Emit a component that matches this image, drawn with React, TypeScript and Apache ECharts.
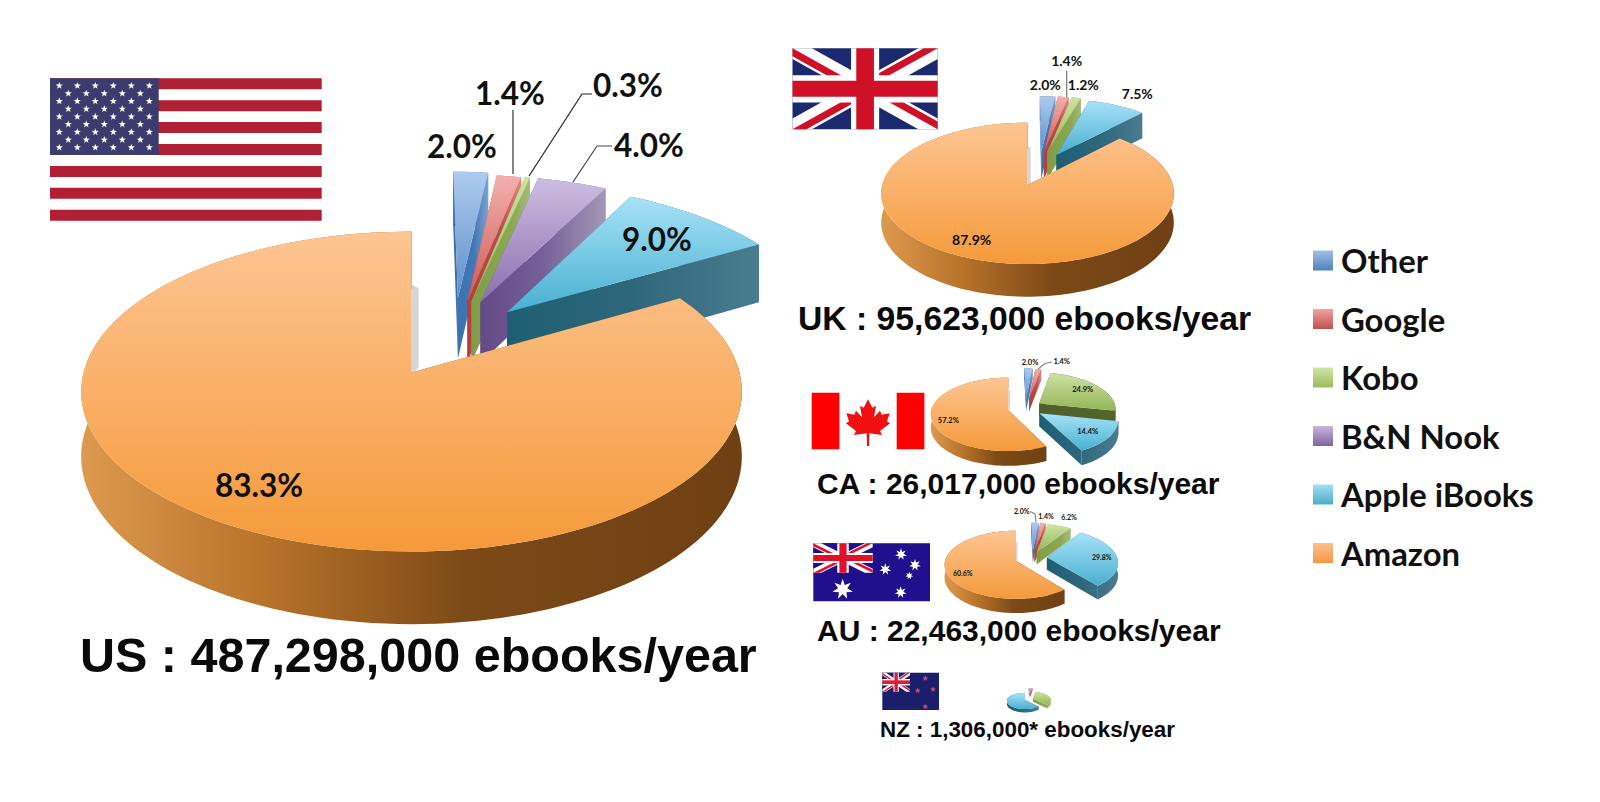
import React, { useEffect, useRef } from "react";
import * as echarts from "echarts";

const providers = ["Other", "Google", "Kobo", "B&N Nook", "Apple iBooks", "Amazon"];
const countries = ["US", "UK", "CA", "AU", "NZ"];
const usShares = [2.0, 1.4, 0.3, 4.0, 9.0, 83.3];
const ukShares = [2.0, 1.4, 1.2, 0, 7.5, 87.9];
const caShares = [2.0, 1.4, 24.9, 0, 14.4, 57.2];
const auShares = [2.0, 1.4, 6.2, 0, 29.8, 60.6];
const nzShares = [2.0, 1.4, 34.6, 0, 62.0, 0];
const allShares = [usShares, ukShares, caShares, auShares, nzShares];
const volumeTitles = [
  "US : 487,298,000 ebooks/year",
  "UK : 95,623,000 ebooks/year",
  "CA : 26,017,000 ebooks/year",
  "AU : 22,463,000 ebooks/year",
  "NZ : 1,306,000* ebooks/year",
];

// layout only -----------------------------------------------------------
const pieGeom = [
  { ax: 411.5, ay: 372.5, rx: 328, r: 157.7, d: 64, k: 0.119, font: 31.5 },
  { ax: 1027.5, ay: 185, rx: 145.3, r: 69.7, d: 28.8, k: 0.118, font: 14 },
  { ax: 1008.3, ay: 410, rx: 77, r: 36.2, d: 13, k: 0.119, font: 7.5 },
  { ax: 1016, ay: 560.7, rx: 71, r: 33.6, d: 12.5, k: 0.119, font: 7 },
  { ax: 1025, ay: 700, rx: 18, r: 8, d: 3, k: 0.119, font: 0 },
];
const explode = [
  [[0.15, 0.5], [0.18, 0.475], [0.193, 0.475], [0.222, 0.47], [0.305, 0.4], [0, 0]],
  [[0.1, 0.5], [0.12, 0.5], [0.145, 0.5], [0, 0], [0.21, 0.453], [0, 0]],
  [[0.24, 0.335], [0.28, 0.32], [0.41, 0.185], [0, 0], [0.4, -0.09], [0, 0]],
  [[0.245, 0.305], [0.27, 0.31], [0.3, 0.26], [0, 0], [0.44, 0.1], [0, 0]],
  [[0.25, 0.8], [0.3, 0.8], [0.45, 0.15], [0, 0], [0, 0], [0, 0]],
];
const labelPos: any[][] = [
  [[462, 146], [510, 93], [628, 85], [649, 145], [657, 239], [259, 485]],
  [[1045.3, 84.3], [1066.7, 60.7], [1083.3, 84], null, [1137.3, 93.3], [971.7, 239]],
  [[1030, 362], [1061.7, 361], [1082.7, 389.3], null, [1087.7, 431.7], [948.3, 420]],
  [[1021.7, 511.3], [1046, 515.7], [1069, 516.7], null, [1101.7, 556.7], [962.7, 572.7]],
  [null, null, null, null, null, null],
];
const leaders = [
  { pts: [[513, 110], [513, 174]], c: "#333" },
  { pts: [[592, 94], [582, 94], [529, 176]], c: "#222" },
  { pts: [[612, 146], [597, 146], [573, 182]], c: "#444" },
  { pts: [[1066.7, 70.7], [1066.7, 97]], c: "#777" },
  { pts: [[1052, 362], [1045, 363.5], [1038, 369]], c: "#888" },
  { pts: [[1030, 511.5], [1035, 514], [1036, 522]], c: "#888" },
];
const topColors = [
  ["#AECBEE", "#5C8FCC"],
  ["#F4B0AC", "#CC5A56"],
  ["#CDE3A2", "#93B557"],
  ["#CDBDE2", "#8A70AE"],
  ["#A8E2F7", "#48B0D0"],
  ["#FDC593", "#F59A3A"],
];
const wallStops: any[] = [
  [[0, "#3A70AC"], [0.6, "#4478B4"], [1, "#7FA2CE"]],
  [[0, "#B23F3C"], [0.6, "#BE4A46"], [1, "#DB8581"]],
  [[0, "#7F9C47"], [0.7, "#8BA852"], [1, "#A4BC78"]],
  [[0, "#654A84"], [0.5, "#75609A"], [1, "#A397B6"]],
  [[0, "#1E5F73"], [0.5, "#2E677C"], [1, "#4A7C8F"]],
  [[0, "#DD9A4E"], [0.28, "#B8722A"], [0.58, "#7C4A17"], [1, "#6F4013"]],
];
const darkKoboWall = [[0, "#4E5F28"], [1, "#55662C"]];
const swatch = [
  ["#A2C0E8", "#4F81BD"],
  ["#F0A4A2", "#C0504D"],
  ["#D0E4A8", "#9BBB59"],
  ["#C6B6DC", "#8064A2"],
  ["#A4DFF2", "#4BACC6"],
  ["#FBC08E", "#F79646"],
];
const titleLayout = [
  { x: 80, y: 655, size: 48.5 },
  { x: 798, y: 318, size: 33.7 },
  { x: 817, y: 483, size: 30 },
  { x: 817, y: 630, size: 30 },
  { x: 880, y: 729, size: 22.4 },
];

// geometry --------------------------------------------------------------
function project(g: any, U: number, V: number) {
  const s = 1 / (1 + g.k * V);
  const x = g.ax + g.rx * U * s;
  const y = g.ay - g.r * V * s;
  return { x, y, yb: y + g.d * s };
}

function renderSlice(provider: number) {
  return (_params: any, api: any) => {
    const c = api.value(0);
    const share = api.value(1);
    const g = pieGeom[c];
    const shares = allShares[c];
    const total = shares.reduce((a: number, b: number) => a + b, 0);
    let before = 0;
    for (let i = 0; i < provider; i++) before += shares[i];
    const a0 = (before / total) * Math.PI * 2;
    const a1 = ((before + share) / total) * Math.PI * 2;
    const [ex, ey] = explode[c][provider];
    const steps = Math.max(3, Math.ceil(((a1 - a0) * 180) / Math.PI / 2));
    const arc: any[] = [];
    for (let i = 0; i <= steps; i++) {
      const t = a0 + ((a1 - a0) * i) / steps;
      arc.push(project(g, ex + Math.sin(t), ey + Math.cos(t)));
    }
    const apex = project(g, ex, ey);
    const all = [apex, ...arc];
    const xs = all.map((p) => p.x);
    const xmin = Math.min(...xs);
    const xmax = Math.max(...xs);
    const stops = c === 2 && provider === 2 ? darkKoboWall : wallStops[provider];
    const wall = new echarts.graphic.LinearGradient(xmin, 0, xmax, 0,
      stops.map((s: any) => ({ offset: s[0], color: s[1] })), true);
    const top = new echarts.graphic.LinearGradient(0, 0, 0, 1, [
      { offset: 0, color: topColors[provider][0] },
      { offset: 1, color: topColors[provider][1] },
    ]);
    const poly = (points: number[][], fill: any) => ({
      type: "polygon", silent: true, shape: { points }, style: { fill, stroke: null },
    });
    const first = arc[0];
    const last = arc[arc.length - 1];
    const children: any[] = [];
    if (provider === 5) {
      const n = project(g, 0, 0.6);
      children.push(poly([
        [g.ax, n.y], [g.ax + g.rx * 0.022, n.y + 4 * (g.r / 157)],
        [g.ax + g.rx * 0.022, apex.y - 5 * (g.r / 157)], [g.ax, apex.y + 2 * (g.r / 157)],
      ], "rgba(150,150,150,0.4)"));
    }
    children.push(poly([[apex.x, apex.y], [first.x, first.y], [first.x, first.yb], [apex.x, apex.yb]], wall));
    children.push(poly([[apex.x, apex.y], [last.x, last.y], [last.x, last.yb], [apex.x, apex.yb]], wall));
    const band = [
      ...arc.map((p) => [p.x, p.y]),
      ...arc.slice().reverse().map((p) => [p.x, p.yb]),
    ];
    children.push(poly(band, wall));
    children.push(poly(all.map((p) => [p.x, p.y]), top));
    const pos = labelPos[c][provider];
    if (pos) {
      children.push({
        type: "text", silent: true, z2: 10,
        style: {
          text: share.toFixed(1) + "%", x: pos[0], y: pos[1], fill: "#111",
          fontFamily: "Lato", fontWeight: "bold", fontSize: g.font,
          align: "center", verticalAlign: "middle",
        },
      });
    }
    return { type: "group", children };
  };
}

// flags -----------------------------------------------------------------
function star(cx: number, cy: number, r: number, n: number, inner: number) {
  const pts: number[][] = [];
  for (let i = 0; i < n * 2; i++) {
    const rr = i % 2 === 0 ? r : r * inner;
    const t = (i * Math.PI) / n;
    pts.push([cx + rr * Math.sin(t), cy - rr * Math.cos(t)]);
  }
  return pts;
}
const rect = (x: number, y: number, width: number, height: number, fill: string) => ({
  type: "rect", silent: true, shape: { x, y, width, height }, style: { fill },
});
const pg = (points: number[][], fill: string) => ({
  type: "polygon", silent: true, shape: { points }, style: { fill },
});

function unionJack(x: number, y: number, w: number, h: number, blue: string, red: string) {
  const m = (pts: number[][]) => pts.map(([a, b]) => [x + (a / 60) * w, y + (b / 30) * h]);
  return [
    rect(x, y, w, h, blue),
    pg(m([[0, 0], [8, 0], [60, 26], [60, 30], [52, 30], [0, 4]]), "#fff"),
    pg(m([[60, 0], [60, 4], [8, 30], [0, 30], [0, 26], [52, 0]]), "#fff"),
    pg(m([[0, 0], [30, 15], [30, 17.9], [0, 2.9]]), red),
    pg(m([[60, 30], [30, 15], [30, 12.1], [60, 27.1]]), red),
    pg(m([[60, 0], [30, 15], [24.2, 15], [54.2, 0]]), red),
    pg(m([[0, 30], [30, 15], [35.8, 15], [5.8, 30]]), red),
    rect(x + (24.2 / 60) * w, y, (11.6 / 60) * w, h, "#fff"),
    rect(x, y + (9.95 / 30) * h, w, (10.1 / 30) * h, "#fff"),
    rect(x + (26.35 / 60) * w, y, (7.3 / 60) * w, h, red),
    rect(x, y + (12.05 / 30) * h, w, (5.9 / 30) * h, red),
  ];
}

function usFlag() {
  const x = 50, y = 78.3, w = 271.7, h = 142.4, sh = h / 13;
  const els: any[] = [];
  for (let i = 0; i < 13; i += 2) els.push(rect(x, y + i * sh, w, sh, "#B01F33"));
  els.push(rect(x, y, 108.7, sh * 7, "#3C3B6E"));
  for (let row = 0; row < 9; row++) {
    const n = row % 2 === 0 ? 6 : 5;
    for (let i = 0; i < n; i++) {
      els.push(pg(star(59.3 + (row % 2 ? 9 : 0) + i * 18, 85.7 + row * 7.73, 3.8, 5, 0.4), "#fff"));
    }
  }
  return els;
}

const leaf = [
  [0, -62], [13, -37], [24, -43], [18, -8], [36, -28], [41, -16], [65, -20], [57, 4], [66, 10],
  [36, 33], [42, 45], [4, 40], [3, 78], [-3, 78], [-4, 40], [-42, 45], [-36, 33], [-66, 10],
  [-57, 4], [-65, -20], [-41, -16], [-36, -28], [-18, -8], [-24, -43], [-13, -37],
];
function caFlag() {
  return [
    rect(811.7, 392.7, 27.7, 56.6, "#FF0000"),
    rect(896.7, 392.7, 27.7, 56.6, "#FF0000"),
    pg(leaf.map(([a, b]) => [868 + a / 3, 420 + b / 3]), "#F01010"),
  ];
}
function auFlag() {
  const X = (z: number) => 800 + z / 3;
  const Y = (z: number) => 500 + z / 3;
  const stars = [[303, 163, 18], [256, 208, 18], [345, 195, 18], [328, 227, 12], [302, 277, 18]];
  return [
    rect(813.3, 543.3, 116.7, 58, "#20108E"),
    ...unionJack(813.3, 543.3, 59.4, 29.4, "#20108E", "#E0102A"),
    pg(star(X(128), Y(268), 10.5, 7, 0.45), "#fff"),
    ...stars.map(([a, b, r]) => pg(star(X(a), Y(b), r / 3, 7, 0.45), "#fff")),
  ];
}
function nzFlag() {
  const X = (z: number) => 870 + z / 3;
  const Y = (z: number) => 660 + z / 3;
  const stars = [[166, 55], [143, 92], [189, 88], [166, 140]];
  return [
    rect(882.3, 672.7, 56.7, 37.3, "#1B1F6B"),
    ...unionJack(882.3, 672.7, 27.7, 19, "#1B1F6B", "#D81E3A"),
    ...stars.map(([a, b]) => pg(star(X(a), Y(b), 3, 5, 0.45), "#C85068")),
  ];
}

export default function App() {
  const ref = useRef<HTMLDivElement>(null);
  useEffect(() => {
    document.body.style.margin = "0";
    const chart = echarts.init(ref.current!, null, { renderer: "svg" });
    const graphics: any[] = [
      ...usFlag(),
      ...unionJack(792.5, 48.3, 145.2, 81, "#1B2A6E", "#CE1126"),
      ...caFlag(),
      ...auFlag(),
      ...nzFlag(),
      ...leaders.map((l) => ({
        type: "polyline", silent: true, z: 5, shape: { points: l.pts },
        style: { stroke: l.c, lineWidth: 1.2, fill: null },
      })),
      ...volumeTitles.map((text, i) => ({
        type: "text", silent: true, z: 5,
        style: {
          text, x: titleLayout[i].x, y: titleLayout[i].y, fill: "#0a0a0a",
          fontFamily: "Liberation Sans", fontWeight: "bold", fontSize: titleLayout[i].size,
          align: "left", verticalAlign: "middle",
        },
      })),
    ];
    chart.setOption({
      animation: false,
      backgroundColor: "#fff",
      legend: {
        orient: "vertical", left: 1308, top: 239, icon: "rect",
        itemWidth: 20, itemHeight: 20, itemGap: 25.5, selectedMode: false,
        textStyle: {
          fontFamily: "Lato", fontWeight: "bold", fontSize: 32.8, color: "#111",
          padding: [4, 0, 0, 3],
        },
        data: providers.map((name, i) => ({
          name,
          itemStyle: {
            color: new echarts.graphic.LinearGradient(0, 0, 0, 1, [
              { offset: 0, color: swatch[i][0] },
              { offset: 1, color: swatch[i][1] },
            ]),
          },
        })),
      },
      graphic: { elements: graphics },
      series: providers.map((name, p) => ({
        type: "custom",
        name,
        coordinateSystem: "none",
        renderItem: renderSlice(p),
        z: 2 + p,
        data: countries
          .map((_c, c) => [c, allShares[c][p]])
          .filter((row) => row[1] > 0),
      })),
    });
    return () => chart.dispose();
  }, []);
  return <div ref={ref} style={{ width: 1600, height: 802 }} />;
}
